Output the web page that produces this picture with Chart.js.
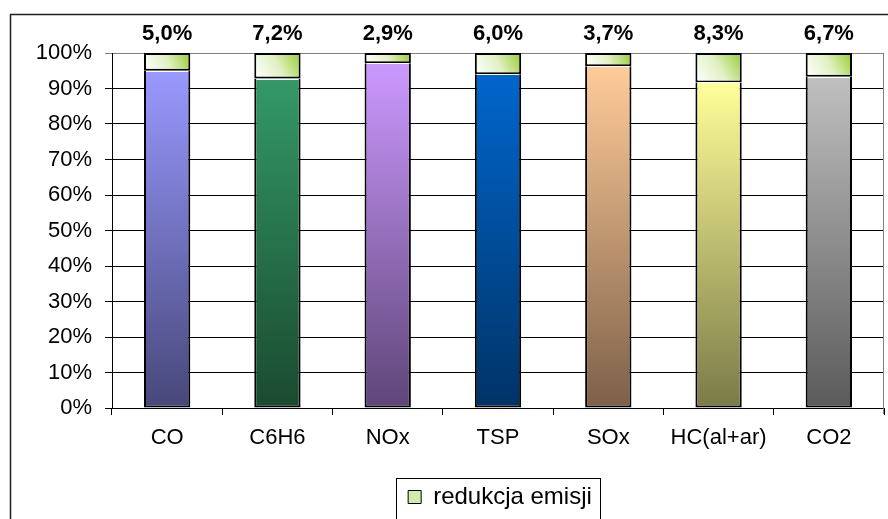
<!DOCTYPE html>
<html>
<head>
<meta charset="utf-8">
<script src="https://cdn.jsdelivr.net/npm/chart.js@4.4.1/dist/chart.umd.min.js"></script>
<style>
  html, body { margin: 0; padding: 0; background: #fff; }
  #wrap { width: 888px; height: 519px; }
</style>
</head>
<body>
<div id="wrap"><canvas id="chart" width="888" height="519"></canvas></div>
<script>
// Data
const categories = ['CO', 'C6H6', 'NOx', 'TSP', 'SOx', 'HC(al+ar)', 'CO2'];
const redukcja = [5.0, 7.2, 2.9, 6.0, 3.7, 8.3, 6.7];
const pozostala = [95.0, 92.8, 97.1, 94.0, 96.3, 91.7, 93.3];

// Gradient colours per bar (light top -> dark bottom)
const topColors = ['#9999ff', '#339966', '#cc99ff', '#0066cc', '#ffcc99', '#ffff99', '#c0c0c0'];
const bottomColors = ['#47477a', '#1a4a30', '#5e4578', '#003366', '#7d6048', '#7a7a48', '#5a5a5a'];
const barPct = 0.42;

Chart.defaults.font.family = '"Liberation Sans", Arial, sans-serif';
Chart.defaults.font.size = 22;
Chart.defaults.color = '#000';

function lowerFill(ctx) {
  const chart = ctx.chart;
  const i = ctx.dataIndex;
  if (i === undefined || !chart.chartArea) return topColors[0];
  const y = chart.scales.y;
  const g = chart.ctx.createLinearGradient(0, y.getPixelForValue(pozostala[i]), 0, y.getPixelForValue(0));
  g.addColorStop(0, topColors[i]);
  g.addColorStop(1, bottomColors[i]);
  return g;
}

function upperFill(ctx) {
  const chart = ctx.chart;
  const i = ctx.dataIndex;
  if (i === undefined || !chart.chartArea) return '#d4ebaa';
  const x = chart.scales.x, y = chart.scales.y;
  const cx = x.getPixelForValue(i);
  const half = x.width / categories.length * barPct / 2;
  const g = chart.ctx.createLinearGradient(cx - half, y.getPixelForValue(pozostala[i]), cx + half, y.getPixelForValue(100));
  g.addColorStop(0, '#ffffff');
  g.addColorStop(0.5, '#e2f1c6');
  g.addColorStop(1, '#99cc33');
  return g;
}

// frame, plot border, top labels, legend box
const extras = {
  id: 'extras',
  afterLayout(chart) {
    chart.legend.left += 52;
    chart.legend.right += 52;
  },
  afterDatasetsDraw(chart) {
    const c = chart.ctx;
    const area = chart.chartArea;
    c.save();
    // white highlight at top of lower segments
    chart.getDatasetMeta(0).data.forEach(el => {
      c.strokeStyle = '#ffffff';
      c.lineWidth = 1;
      c.beginPath();
      c.moveTo(el.x - el.width / 2 + 2, Math.round(el.y) + 0.5);
      c.lineTo(el.x + el.width / 2 - 2, Math.round(el.y) + 0.5);
      c.stroke();
    });
    // value labels above bars
    c.font = 'bold 22px "Liberation Sans", Arial, sans-serif';
    c.fillStyle = '#000';
    c.textAlign = 'center';
    c.textBaseline = 'middle';
    chart.getDatasetMeta(1).data.forEach((el, i) => {
      c.fillText(redukcja[i].toFixed(1).replace('.', ',') + '%', el.x, area.top - 19);
    });
    // right plot border
    c.strokeStyle = '#808080';
    c.lineWidth = 1;
    c.beginPath();
    c.moveTo(area.right - 0.5, area.top);
    c.lineTo(area.right - 0.5, area.bottom + 6);
    c.stroke();
    c.restore();
  },
  afterDraw(chart) {
    const c = chart.ctx;
    c.save();
    c.strokeStyle = '#222';
    c.lineWidth = 1.5;
    c.beginPath();
    c.moveTo(10.5, 530);
    c.lineTo(10.5, 14.5);
    c.lineTo(900, 14.5);
    c.stroke();
    c.strokeStyle = '#000';
    c.lineWidth = 1;
    c.strokeRect(396.5, 478.5, 204, 60);
    c.restore();
  }
};

new Chart(document.getElementById('chart'), {
  type: 'bar',
  data: {
    labels: categories,
    datasets: [{
      label: 'emisja',
      data: pozostala,
      backgroundColor: lowerFill,
      borderColor: '#000',
      borderWidth: { top: 0, left: 2, right: 2, bottom: 2 },
      borderSkipped: false,
      barPercentage: barPct,
      categoryPercentage: 1
    }, {
      label: 'redukcja emisji',
      data: redukcja,
      backgroundColor: upperFill,
      borderColor: '#000',
      borderWidth: 2,
      borderSkipped: false,
      barPercentage: barPct,
      categoryPercentage: 1
    }]
  },
  options: {
    responsive: false,
    animation: false,
    layout: { padding: { top: 53, left: 12, right: 4, bottom: 0 } },
    plugins: {
      tooltip: { enabled: false },
      legend: {
        position: 'bottom',
        labels: {
          boxWidth: 13,
          boxHeight: 13,
          padding: 10,
          font: { size: 24 },
          color: '#000',
          generateLabels: chart => [{
            text: chart.data.datasets[1].label,
            fillStyle: '#d4ebaa',
            strokeStyle: '#000',
            lineWidth: 1,
            datasetIndex: 1,
            hidden: false
          }]
        }
      }
    },
    scales: {
      x: {
        stacked: true,
        afterFit: scale => { scale.height = 67; },
        grid: { display: true, drawOnChartArea: false, drawTicks: true, tickLength: 7, color: '#000', offset: true },
        border: { display: true, color: '#000' },
        ticks: { padding: 10, font: { size: 22 }, color: '#000' }
      },
      y: {
        stacked: true,
        min: 0,
        max: 100,
        afterFit: scale => { scale.width = 100; },
        grid: {
          color: ctx => ctx.tick && ctx.tick.value === 100 ? '#808080' : '#000',
          tickLength: 7
        },
        border: { display: true, color: '#000' },
        ticks: { stepSize: 10, padding: 13, font: { size: 22 }, color: '#000', callback: v => v + '%' }
      }
    }
  },
  plugins: [extras]
});
</script>
</body>
</html>
